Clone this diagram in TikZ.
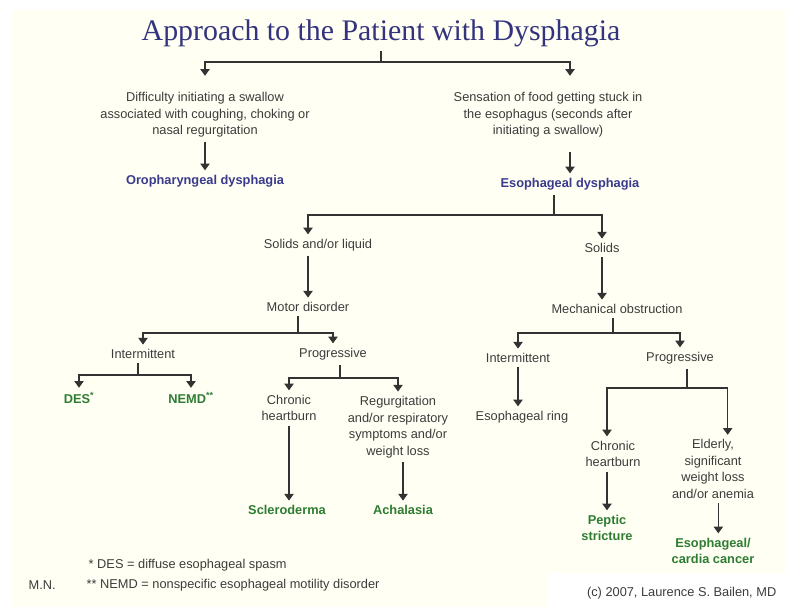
\documentclass[tikz,border=0pt]{standalone}
\usepackage{fontspec}
\setmainfont{Liberation Sans}
\newfontfamily\titlefont{Liberation Serif}
\usetikzlibrary{arrows.meta}
\definecolor{cream}{HTML}{FFFFF3}
\definecolor{txtgray}{HTML}{3C3C3C}
\definecolor{linegray}{HTML}{333333}
\definecolor{dxblue}{HTML}{3A3A8E}
\definecolor{dxgreen}{HTML}{2E7D32}
\definecolor{titleblue}{HTML}{34347E}
\tikzset{
	txt/.style={align=center, text=txtgray, font=\fontsize{9.6}{12.4}\selectfont},
	dx/.style={txt, text=dxblue, font=\fontsize{9.6}{12.4}\selectfont\bfseries},
	ddx/.style={txt, text=dxgreen, font=\fontsize{9.6}{12.4}\selectfont\bfseries},
	branch/.style={draw=linegray, line width=0.8pt},
	arr/.style={branch, -{Triangle[width=7pt,length=5pt]}},
}
\begin{document}
\begin{tikzpicture}[x=0.75pt, y=-0.75pt]
	%background
	\useasboundingbox (0,0) rectangle (785,607);
	\fill[cream] (12,10) rectangle (785,607);
	\fill[white] (548,573) rectangle (785,607);
	%title
	\node[text=titleblue, font=\titlefont\fontsize{22.4}{26}\selectfont] (title) at (381,33) {Approach to the Patient with Dysphagia};
	%first level
	\node[txt] (swallow) at (205,115) {Difficulty initiating a swallow\\associated with coughing, choking or\\nasal regurgitation};
	\node[dx] (oro) at (205,181) {Oropharyngeal dysphagia};
	\node[txt] (stuck) at (548,115) {Sensation of food getting stuck in\\the esophagus (seconds after\\initiating a swallow)};
	\node[dx] (eso) at (570,184) {Esophageal dysphagia};
	%esophageal
	\node[txt] (solliq) at (318,245) {Solids and/or liquid};
	\node[txt] (solids) at (602,248) {Solids};
	\node[txt] (motor) at (308,307) {Motor disorder};
	\node[txt] (mech) at (617,309) {Mechanical obstruction};
	%motor disorder
	\node[txt] (mintm) at (143,354) {Intermittent};
	\node[txt] (mprog) at (333,354) {Progressive};
	\node[ddx] (des) at (79,398) {DES\textsuperscript{*}};
	\node[ddx] (nemd) at (191,398) {NEMD\textsuperscript{**}};
	\node[txt] (mheart) at (289,408) {Chronic\\heartburn};
	\node[txt] (regurg) at (398,427) {Regurgitation\\and/or respiratory\\symptoms and/or\\weight loss};
	\node[ddx] (sclero) at (287,510) {Scleroderma};
	\node[ddx] (achal) at (403,510) {Achalasia};
	%mechanical obstruction
	\node[txt] (ointm) at (518,358) {Intermittent};
	\node[txt] (oprog) at (680,358) {Progressive};
	\node[txt] (ring) at (522,417) {Esophageal ring};
	\node[txt] (oheart) at (613,454) {Chronic\\heartburn};
	\node[txt] (elderly) at (713,469) {Elderly,\\significant\\weight loss\\and/or anemia};
	\node[ddx] (peptic) at (607,528) {Peptic\\stricture};
	\node[ddx] (cancer) at (713,551) {Esophageal/\\cardia cancer};
	%notes
	\node[txt, anchor=west] (notedes) at (84,565) {* DES = diffuse esophageal spasm};
	\node[txt, anchor=west] (notenemd) at (82,585) {** NEMD = nonspecific esophageal motility disorder};
	\node[txt, anchor=west] (mn) at (24,585) {M.N.};
	\node[txt, anchor=east] (copy) at (781,593) {(c) 2007, Laurence S. Bailen, MD};
	%connectors
	\coordinate (f1) at (381,62);
	\draw[branch] (title) -- (f1);
	\draw[arr, shorten >=9pt] (f1) -| (swallow.north);
	\draw[arr, shorten >=9pt] (f1) -| (stuck.north -| eso);
	\draw[arr] (swallow) -- (oro);
	\draw[arr, shorten <=7pt] (stuck.south -| eso) -- (eso);
	\coordinate (f2) at (554,215);
	\draw[branch] (eso.south -| f2) -- (f2);
	\draw[arr] (f2) -| (solliq.north -| motor);
	\draw[arr] (f2) -| (solids);
	\draw[arr] (solliq.south -| motor) -- (motor);
	\draw[arr] (solids) -- (solids |- mech.north);
	\coordinate (f3) at (298,333);
	\draw[branch] (motor.south -| f3) -- (f3);
	\draw[arr] (f3) -| (mintm);
	\draw[arr] (f3) -| (mprog);
	\coordinate (f4) at (138,375);
	\draw[branch] (mintm.south -| f4) -- (f4);
	\draw[arr] (f4) -| (des);
	\draw[arr] (f4) -| (nemd);
	\coordinate (f5) at (340,378);
	\draw[branch] (mprog.south -| f5) -- (f5);
	\draw[arr] (f5) -| (mheart);
	\draw[arr] (f5) -| (regurg);
	\draw[arr] (mheart) -- (mheart |- sclero.north);
	\draw[arr] (regurg.south -| achal) -- (achal);
	\coordinate (f6) at (613,333);
	\draw[branch] (mech.south -| f6) -- (f6);
	\draw[arr] (f6) -| (ointm);
	\draw[arr] (f6) -| (oprog);
	\draw[arr] (ointm) -- (ointm |- ring.north);
	\coordinate (f7) at (687,388);
	\draw[branch] (oprog.south -| f7) -- (f7);
	\draw[arr] (f7) -| (oheart.north -| peptic);
	\draw[arr] (f7) -| ([xshift=11pt]elderly.north);
	\draw[arr] (oheart.south -| peptic) -- (peptic);
	\draw[arr] ([xshift=4pt]elderly.south) -- ([xshift=4pt]cancer.north);
\end{tikzpicture}
\end{document}
